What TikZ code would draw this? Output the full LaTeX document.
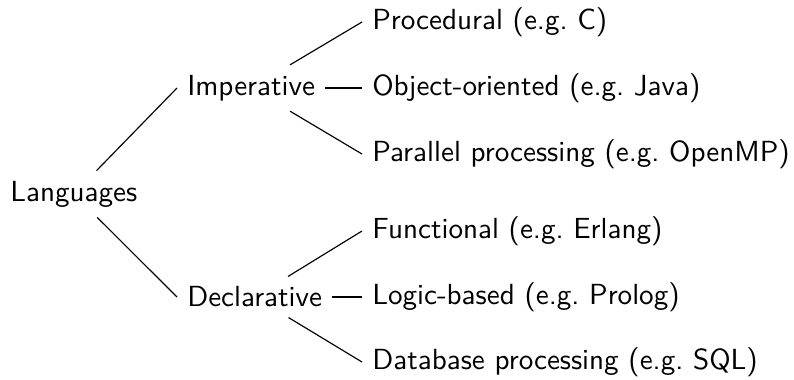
\documentclass[tikz,border=0pt]{standalone}
\begin{document}
\begin{tikzpicture}[
    x=0.3437pt, y=-0.3437pt,
    font=\sffamily,
    every node/.style={anchor=west, inner sep=3.33pt},
    branch/.style={draw=black, line width=0.4pt}
  ]
  \useasboundingbox (0,0) rectangle (794,379);

  % root
  \node (lang) at (0,194) {Languages};

  % first level
  \node (imp) at (177,88)  {Imperative};
  \node (dec) at (177,297) {Declarative};

  % second level
  \node (proc) at (362,22)  {Procedural (e.g.\ C)};
  \node (oop)  at (362,88)  {Object-oriented (e.g.\ Java)};
  \node (par)  at (362,154) {Parallel processing (e.g.\ OpenMP)};
  \node (fun)  at (362,231) {Functional (e.g.\ Erlang)};
  \node (logic) at (362,297) {Logic-based (e.g.\ Prolog)};
  \node (db)   at (362,362) {Database processing (e.g.\ SQL)};

  % edges
  \draw[branch] (lang) -- (imp.west);
  \draw[branch] (lang) -- (dec.west);
  \draw[branch] (imp) -- (proc.west);
  \draw[branch] (imp) -- (oop.west);
  \draw[branch] (imp) -- (par.west);
  \draw[branch] (dec) -- (fun.west);
  \draw[branch] (dec) -- (logic.west);
  \draw[branch] (dec) -- (db.west);
\end{tikzpicture}
\end{document}
